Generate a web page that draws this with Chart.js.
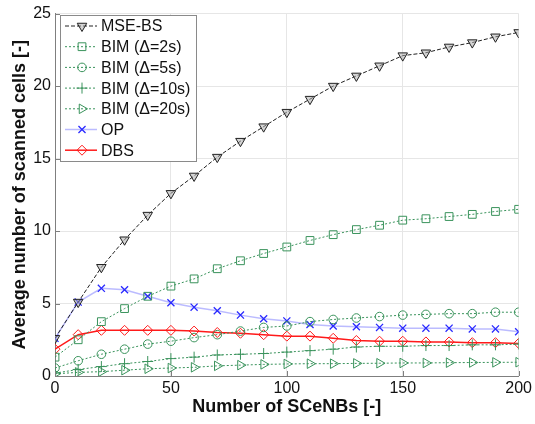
<!DOCTYPE html>
<html>
<head>
<meta charset="utf-8">
<script src="https://cdn.jsdelivr.net/npm/chart.js@4/dist/chart.umd.min.js"></script>
<style>
  html, body { margin: 0; padding: 0; background: #fff; }
  #wrap { width: 535px; height: 424px; }
</style>
</head>
<body>
<div id="wrap"><canvas id="chart"></canvas></div>
<script>
// number of SCeNBs
const sceNbs = [0, 10, 20, 30, 40, 50, 60, 70, 80, 90, 100, 110, 120, 130, 140, 150, 160, 170, 180, 190, 200];

const mseBs = [2.6, 5.1, 7.5, 9.4, 11.1, 12.6, 13.8, 15.1, 16.2, 17.2, 18.2, 19.1, 20.0, 20.7, 21.4, 22.1, 22.3, 22.7, 23.0, 23.4, 23.7];
const bim2s = [1.3, 2.5, 3.75, 4.65, 5.5, 6.2, 6.7, 7.4, 7.95, 8.45, 8.9, 9.35, 9.75, 10.1, 10.4, 10.75, 10.85, 11.0, 11.15, 11.35, 11.5];
const bim5s = [0.55, 1.05, 1.5, 1.85, 2.2, 2.4, 2.65, 2.85, 3.1, 3.35, 3.45, 3.75, 3.9, 4.0, 4.1, 4.2, 4.25, 4.3, 4.3, 4.4, 4.4];
const bim10s = [0.2, 0.45, 0.65, 0.85, 1.0, 1.2, 1.3, 1.45, 1.5, 1.55, 1.65, 1.75, 1.85, 2.0, 2.05, 2.05, 2.1, 2.1, 2.15, 2.15, 2.2];
const bim20s = [0.15, 0.25, 0.3, 0.4, 0.5, 0.55, 0.6, 0.7, 0.75, 0.8, 0.83, 0.85, 0.85, 0.87, 0.88, 0.9, 0.9, 0.92, 0.93, 0.94, 0.95];
const op = [2.6, 5.1, 6.05, 5.95, 5.5, 5.05, 4.75, 4.5, 4.2, 3.95, 3.8, 3.55, 3.45, 3.4, 3.35, 3.3, 3.3, 3.3, 3.25, 3.25, 3.05];
const dbs = [1.85, 2.85, 3.15, 3.15, 3.15, 3.15, 3.1, 3.0, 2.95, 2.85, 2.75, 2.75, 2.6, 2.45, 2.4, 2.4, 2.35, 2.35, 2.3, 2.3, 2.25];

const xTicks = [0, 50, 100, 150, 200];
const yTicks = [0, 5, 10, 15, 20, 25];

const GREEN = "#3a935c";
const FONT = "'Liberation Sans', Arial, sans-serif";

function pts(ys) {
    return ys.map((y, i) => ({ x: sceNbs[i], y: y }));
}

function bimSet(label, ys, style, rotation, radius) {
    return {
        label: label,
        data: pts(ys),
        borderColor: GREEN,
        borderWidth: 1,
        borderDash: [2, 2],
        pointStyle: style,
        pointRotation: rotation,
        pointRadius: radius,
        pointBorderColor: GREEN,
        pointBackgroundColor: "rgba(0,0,0,0)",
        pointBorderWidth: 1,
    };
}

const datasets = [
    {
        label: "MSE-BS",
        data: pts(mseBs),
        borderColor: "#222",
        borderWidth: 1,
        borderDash: [4, 2],
        pointStyle: "triangle",
        pointRotation: 180,
        pointRadius: 5.5,
        pointBorderColor: "#222",
        pointBackgroundColor: "rgba(170,170,170,0.5)",
        pointBorderWidth: 1,
    },
    bimSet("BIM (\u0394=2s)", bim2s, "rect", 0, 5.5),
    bimSet("BIM (\u0394=5s)", bim5s, "circle", 0, 4.3),
    bimSet("BIM (\u0394=10s)", bim10s, "cross", 0, 5.5),
    bimSet("BIM (\u0394=20s)", bim20s, "triangle", 90, 5.5),
    {
        label: "OP",
        data: pts(op),
        borderColor: "rgba(170,170,255,0.8)",
        borderWidth: 1.5,
        pointStyle: "crossRot",
        pointRadius: 5,
        pointBorderColor: "#2a2aff",
        pointBorderWidth: 1.3,
    },
    {
        label: "DBS",
        data: pts(dbs),
        borderColor: "#ff1a1a",
        borderWidth: 1.5,
        pointStyle: "rectRot",
        pointRadius: 5,
        pointBorderColor: "#ff1a1a",
        pointBackgroundColor: "rgba(0,0,0,0)",
        pointBorderWidth: 1,
    },
];

// little ticks drawn inside the plot, like the original
const innerTicks = {
    id: "innerTicks",
    afterDraw(chart) {
        const ctx = chart.ctx;
        const xs = chart.scales.x, ys = chart.scales.y;
        const a = chart.chartArea;
        ctx.save();
        ctx.strokeStyle = "#7f7f7f";
        ctx.lineWidth = 1;
        ctx.beginPath();
        xTicks.forEach(v => {
            const px = Math.round(xs.getPixelForValue(v)) + 0.5;
            ctx.moveTo(px, a.bottom);
            ctx.lineTo(px, a.bottom - 5);
        });
        yTicks.forEach(v => {
            const py = Math.round(ys.getPixelForValue(v)) + 0.5;
            ctx.moveTo(a.left, py);
            ctx.lineTo(a.left + 5, py);
        });
        ctx.stroke();
        ctx.restore();
    }
};

// legend box in upper left corner
const boxLegend = {
    id: "boxLegend",
    afterDraw(chart) {
        const ctx = chart.ctx;
        const x0 = 60, y0 = 15, w = 136, h = 146, rowH = 20.7;
        ctx.save();
        ctx.fillStyle = "#fff";
        ctx.fillRect(x0, y0, w, h);
        ctx.strokeStyle = "#8a8a8a";
        ctx.lineWidth = 1;
        ctx.strokeRect(x0 + 0.5, y0 + 0.5, w, h);
        ctx.font = "16px " + FONT;
        ctx.textBaseline = "middle";
        chart.data.datasets.forEach((ds, i) => {
            const cy = y0 + 11 + i * rowH;
            ctx.save();
            ctx.strokeStyle = ds.borderColor;
            ctx.lineWidth = ds.borderWidth;
            ctx.setLineDash(ds.borderDash || []);
            ctx.beginPath();
            ctx.moveTo(x0 + 5, cy);
            ctx.lineTo(x0 + 37, cy);
            ctx.stroke();
            ctx.setLineDash([]);
            ctx.strokeStyle = ds.pointBorderColor;
            ctx.fillStyle = ds.pointBackgroundColor || "rgba(0,0,0,0)";
            ctx.lineWidth = ds.pointBorderWidth;
            Chart.helpers.drawPoint(ctx, {
                pointStyle: ds.pointStyle,
                rotation: ds.pointRotation || 0,
                radius: ds.pointRadius,
                borderWidth: ds.pointBorderWidth
            }, x0 + 22, cy);
            ctx.restore();
            ctx.fillStyle = "#111";
            ctx.fillText(ds.label, x0 + 41, cy + 1);
        });
        ctx.restore();
    }
};

new Chart(document.getElementById("chart"), {
    type: "line",
    data: { datasets: datasets },
    options: {
        responsive: true,
        maintainAspectRatio: false,
        animation: false,
        layout: { padding: { top: 11, right: 15, left: 0, bottom: 0 } },
        plugins: {
            legend: { display: false },
            tooltip: { enabled: false },
        },
        scales: {
            x: {
                type: "linear",
                min: 0,
                max: 200,
                afterFit(scale) { scale.height = 48; },
                afterBuildTicks(scale) { scale.ticks = xTicks.map(v => ({ value: v })); },
                ticks: {
                    color: "#111",
                    padding: 3,
                    font: { family: FONT, size: 16 },
                },
                grid: { color: "#e6e6e6", drawTicks: false },
                border: { color: "#7f7f7f" },
                title: {
                    display: true,
                    text: "Number of SCeNBs [-]",
                    color: "#111",
                    font: { family: FONT, size: 18, weight: "bold" },
                    padding: { top: 0, bottom: 6 },
                },
            },
            y: {
                min: 0,
                max: 25,
                afterFit(scale) { scale.width = 55; },
                afterBuildTicks(scale) { scale.ticks = yTicks.map(v => ({ value: v })); },
                ticks: {
                    color: "#111",
                    padding: 4,
                    font: { family: FONT, size: 16 },
                },
                grid: { color: "#e6e6e6", drawTicks: false },
                border: { color: "#7f7f7f" },
                title: {
                    display: true,
                    text: "Average number of scanned cells [-]",
                    color: "#111",
                    font: { family: FONT, size: 18, weight: "bold" },
                    padding: { top: 9, bottom: 0 },
                },
            },
        },
    },
    plugins: [innerTicks, boxLegend],
});
</script>
</body>
</html>
